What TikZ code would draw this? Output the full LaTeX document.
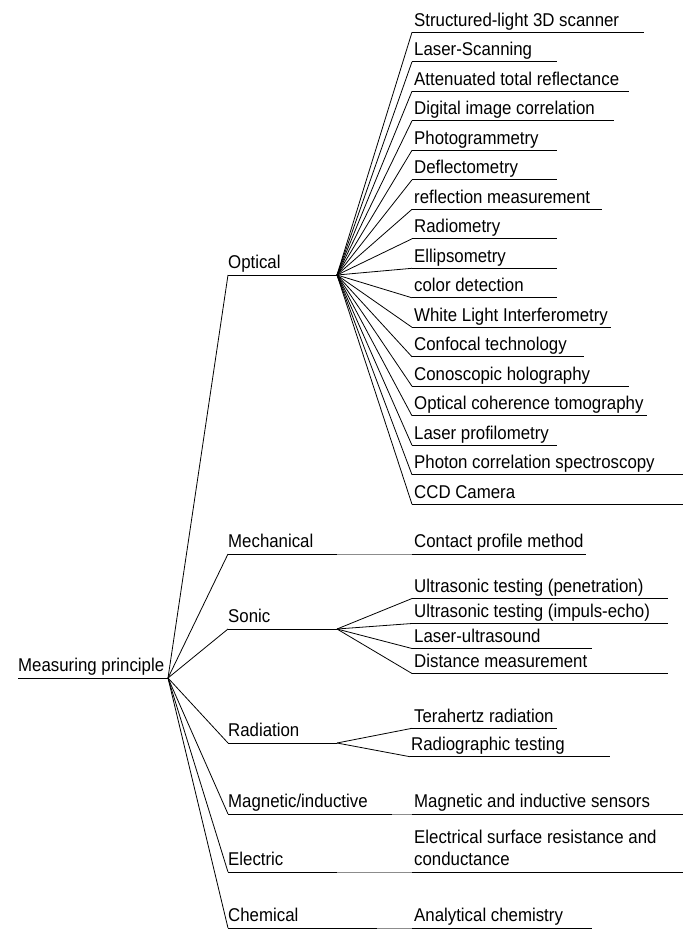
\documentclass[tikz,border=0pt]{standalone}
\usepackage{fontspec}
\setmainfont{Liberation Sans}[FakeStretch=0.91]
\begin{document}
\begin{tikzpicture}[x=1pt,y=-1pt,
  lbl/.style={anchor=base west,inner sep=0pt,font=\fontsize{18.5}{22}\selectfont},
  uline/.style={line width=1pt},
  conn/.style={line width=0.8pt},
  glink/.style={line width=1pt,draw=black!45}]
\useasboundingbox (0,0) rectangle (687,929);
% root
\node[lbl] (root) at (18,671.7) {Measuring principle};
\coordinate (rootS) at (18,678);
\coordinate (rootH) at (168,678);
\draw[uline] (rootS) -- (rootH);
% categories
\node[lbl] (opt) at (228,268.7) {Optical};
\coordinate (optS) at (228,275); \coordinate (optH) at (337,275);
\node[lbl] (mech) at (228,547.7) {Mechanical};
\coordinate (mechS) at (228,554); \coordinate (mechH) at (337,554);
\node[lbl] (son) at (228,622.7) {Sonic};
\coordinate (sonS) at (228,629); \coordinate (sonH) at (337,629);
\node[lbl] (rad) at (228,736.7) {Radiation};
\coordinate (radS) at (228,743); \coordinate (radH) at (337,743);
\node[lbl] (mag) at (228,807.7) {Magnetic/inductive};
\coordinate (magS) at (228,814); \coordinate (magH) at (392,814);
\node[lbl] (ele) at (228,865.3) {Electric};
\coordinate (eleS) at (228,872); \coordinate (eleH) at (337,872);
\node[lbl] (che) at (228,921.7) {Chemical};
\coordinate (cheS) at (228,928); \coordinate (cheH) at (377,928);
\foreach \c in {opt,mech,son,rad,mag,ele,che}{
  \draw[uline] (\c S) -- (\c H);
  \draw[conn] (rootH) -- (\c S);
}
% optical leaves
\foreach \t/\r [count=\i from 0] in {
  Structured-light 3D scanner/644,
  Laser-Scanning/557,
  Attenuated total reflectance/629,
  Digital image correlation/614,
  Photogrammetry/557,
  Deflectometry/557,
  reflection measurement/602,
  Radiometry/557,
  Ellipsometry/557,
  color detection/557,
  White Light Interferometry/611,
  Confocal technology/584,
  Conoscopic holography/629,
  Optical coherence tomography/647,
  Laser profilometry/557,
  Photon correlation spectroscopy/683,
  CCD Camera/683}{
  \pgfmathsetmacro\yy{32.3+29.5*\i}
  \coordinate (ol\i) at (412,\yy);
  \coordinate (ole\i) at (\r,\yy);
  \node[lbl] (olt\i) at (414,\yy-6.3) {\t};
  \draw[uline] (ol\i) -- (ole\i);
  \draw[conn] (optH) -- (ol\i);
}
% mechanical leaf
\coordinate (mechL) at (412,554); \coordinate (mechE) at (586,554);
\draw[glink] (mechH) -- (mechL);
\draw[uline] (mechL) -- (mechE);
\node[lbl] (mechT) at (414,547.7) {Contact profile method};
% sonic leaves
\foreach \t/\r [count=\i from 0] in {
  Ultrasonic testing (penetration)/668,
  Ultrasonic testing (impuls-echo)/668,
  Laser-ultrasound/592,
  Distance measurement/668}{
  \pgfmathsetmacro\yy{598.5+25*\i}
  \coordinate (sl\i) at (412,\yy);
  \coordinate (sle\i) at (\r,\yy);
  \node[lbl] (slt\i) at (414,\yy-6.3) {\t};
  \draw[uline] (sl\i) -- (sle\i);
  \draw[conn] (sonH) -- (sl\i);
}
% radiation leaves
\coordinate (rl1) at (412,728.3); \coordinate (rle1) at (557,728.3);
\coordinate (rl2) at (410,756.7); \coordinate (rle2) at (610,756.7);
\node[lbl] (rlt1) at (414,722) {Terahertz radiation};
\node[lbl] (rlt2) at (411,750.4) {Radiographic testing};
\draw[uline] (rl1) -- (rle1);
\draw[uline] (rl2) -- (rle2);
\draw[conn] (radH) -- (rl1);
\draw[conn] (radH) -- (rl2);
% magnetic leaf
\coordinate (magL) at (412,814); \coordinate (magE) at (683,814);
\draw[glink] (magH) -- (magL);
\draw[uline] (magL) -- (magE);
\node[lbl] (magT) at (414,807.7) {Magnetic and inductive sensors};
% electric leaf
\coordinate (eleL) at (412,872); \coordinate (eleE) at (683,872);
\draw[glink] (eleH) -- (eleL);
\draw[uline] (eleL) -- (eleE);
\node[lbl] (eleT1) at (414,843.3) {Electrical surface resistance and};
\node[lbl] (eleT2) at (414,865.3) {conductance};
% chemical leaf
\coordinate (cheL) at (412,928); \coordinate (cheE) at (592,928);
\draw[glink] (cheH) -- (cheL);
\draw[uline] (cheL) -- (cheE);
\node[lbl] (cheT) at (414,921.7) {Analytical chemistry};
\end{tikzpicture}
\end{document}
